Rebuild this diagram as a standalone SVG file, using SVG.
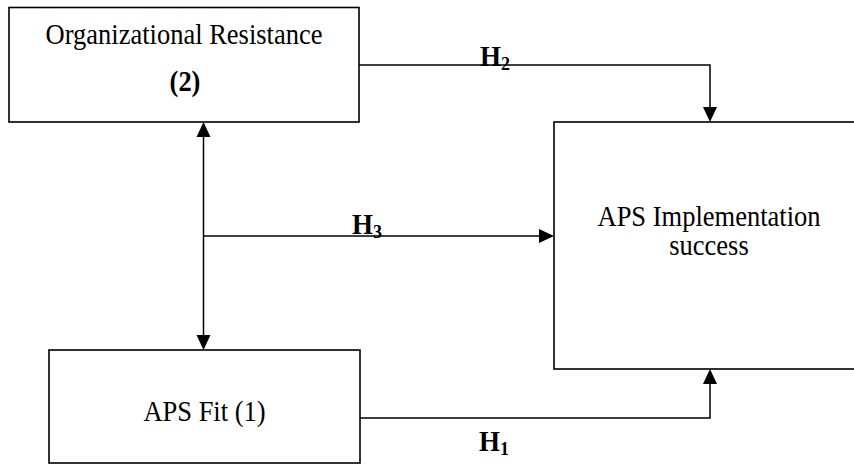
<svg xmlns="http://www.w3.org/2000/svg" width="854" height="464" viewBox="0 0 854 464">
<defs>
<style>
.box{fill:#fff;stroke:#000;stroke-width:1.6}
.ln{fill:none;stroke:#000;stroke-width:1.5}
.ah{fill:#000}
.t{font-family:"Liberation Serif","Times New Roman",serif;font-size:26.5px;fill:#000;text-anchor:middle}
.b{font-weight:bold}
.h{font-family:"Liberation Serif","Times New Roman",serif;font-size:27px;font-weight:bold;fill:#000}
.sub{font-size:18px}
</style>
</defs>
<rect width="854" height="464" fill="#fff"/>
<g id="connectors">
<path class="ln" d="M359,65 H710 V110"/>
<path class="ah" d="M703,107 L717,107 L710,122 Z"/>
<path class="ln" d="M203.5,130 V342"/>
<path class="ah" d="M196.5,137 L210.5,137 L203.5,122 Z"/>
<path class="ah" d="M196.5,335 L210.5,335 L203.5,350 Z"/>
<path class="ln" d="M203.5,236 H545"/>
<path class="ah" d="M539,229 L539,243 L554,236 Z"/>
<path class="ln" d="M360,418 H710 V380"/>
<path class="ah" d="M703,384 L717,384 L710,369 Z"/>
<text class="h" transform="translate(480,65.5) scale(1,1.1)">H<tspan class="sub" dy="4">2</tspan></text>
<text class="h" transform="translate(352,234) scale(1,1.1)">H<tspan class="sub" dy="4">3</tspan></text>
<text class="h" transform="translate(479,451) scale(1,1.1)">H<tspan class="sub" dy="4">1</tspan></text>
</g>
<g id="org-resistance">
<rect class="box" x="9" y="7.5" width="350" height="114.5"/>
<text class="t" transform="translate(184,44) scale(1,1.08)">Organizational Resistance</text>
<text class="t b" transform="translate(185,91) scale(1,1.08)">(2)</text>
</g>
<g id="aps-success">
<rect class="box" x="554" y="122" width="314" height="247"/>
<text class="t" transform="translate(709,226) scale(1,1.08)">APS Implementation</text>
<text class="t" transform="translate(709,255) scale(1,1.08)">success</text>
</g>
<g id="aps-fit">
<rect class="box" x="49" y="350" width="311" height="113"/>
<text class="t" transform="translate(204.5,421) scale(1,1.08)">APS Fit (1)</text>
</g>
</svg>
